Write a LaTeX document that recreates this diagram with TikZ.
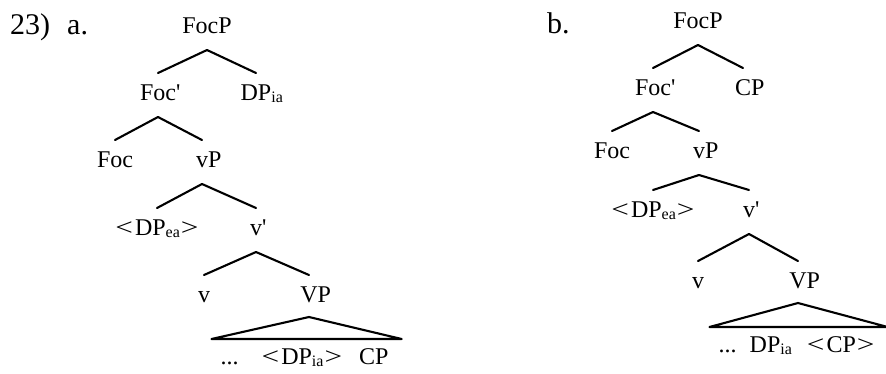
\documentclass[tikz,border=0pt]{standalone}
\usepackage{fontspec}
\newfontfamily\synfont{Liberation Serif}
\usepackage{graphicx}
\usepackage{tikz}
\usetikzlibrary{positioning,calc}
\newcommand{\lowsub}[1]{\raisebox{-2.5pt}{\fontsize{16}{16}\selectfont #1}}
\newcommand{\wlt}{\scalebox{1.3}[1]{<}}
\newcommand{\wgt}{\scalebox{1.3}[1]{>}}
\newcommand{\trc}[1]{\wlt\kern2pt#1\kern1pt\wgt}
\tikzset{
  syn/.style={inner sep=0pt, anchor=base, font=\synfont\fontsize{24}{28}\selectfont},
  syn lbl/.style={syn, anchor=base west, font=\synfont\fontsize{30}{34}\selectfont},
  syn leaf/.style={syn, anchor=base west},
  syn br/.style={line width=2.1pt, line cap=round},
  syn tri/.style={syn br, line join=round},
}

\begin{document}
\begin{tikzpicture}[x=1pt, y=-1pt]
  \useasboundingbox (0,0) rectangle (886,373);
  % (a) DP_ia in the focus position
  \node[syn lbl] (na) at (10,34) {23)};
  \node[syn lbl] (la) at (67,34) {a.};
  \node[syn] (a0) at (207,33) {FocP};
  \node[syn] (a1) at (158,100) {Foc\rlap{'}};
  \node[syn] (a2) at (256,100) {DP\rlap{\lowsub{ia}}};
  \node[syn] (a3) at (115,167) {Foc};
  \node[syn] (a4) at (202,167) {v\rlap{P}};
  \node[syn] (a5) at (157,235) {\trc{DP\lowsub{ea}}};
  \node[syn] (a6) at (256,235) {v\rlap{'}};
  \node[syn] (a7) at (204,302) {v};
  \node[syn] (a8) at (309,302) {V\rlap{P}};
  \node[syn leaf] (a9) at (220.5,364) {...\hspace{23pt}\trc{DP\lowsub{ia}}\hspace{17pt}CP};
  % (b) CP in the focus position
  \node[syn lbl] (lb) at (547,33) {b.};
  \node[syn] (b0) at (698,28) {FocP};
  \node[syn] (b1) at (653,95) {Foc\rlap{'}};
  \node[syn] (b2) at (743,95) {C\rlap{P}};
  \node[syn] (b3) at (612,158) {Foc};
  \node[syn] (b4) at (699,158) {v\rlap{P}};
  \node[syn] (b5) at (653,217) {\trc{DP\lowsub{ea}}};
  \node[syn] (b6) at (749,217) {v\rlap{'}};
  \node[syn] (b7) at (698,288) {v};
  \node[syn] (b8) at (798,288) {V\rlap{P}};
  \node[syn leaf] (b9) at (718.5,352) {...\hspace{13pt}DP\lowsub{ia}\hspace{15pt}\trc{CP}};
  % branches
  \foreach \p/\c in {a0/a1,a0/a2,a1/a3,a1/a4,a4/a5,a4/a6,a6/a7,a6/a8,
                     b0/b1,b0/b2,b1/b3,b1/b4,b4/b5,b4/b6,b6/b7,b6/b8}
    \draw[syn br] ([yshift=-17pt]\p.base) -- ([yshift=27pt]\c.base);
  % triangles over the VP contents
  \foreach \t/\l in {a8/a9,b8/b9}
    \draw[syn tri] ([yshift=-15pt]\t.base) -- ([xshift=-9pt,yshift=25pt]\l.base west)
      -- ([xshift=13pt,yshift=25pt]\l.base east) -- cycle;
\end{tikzpicture}
\end{document}
